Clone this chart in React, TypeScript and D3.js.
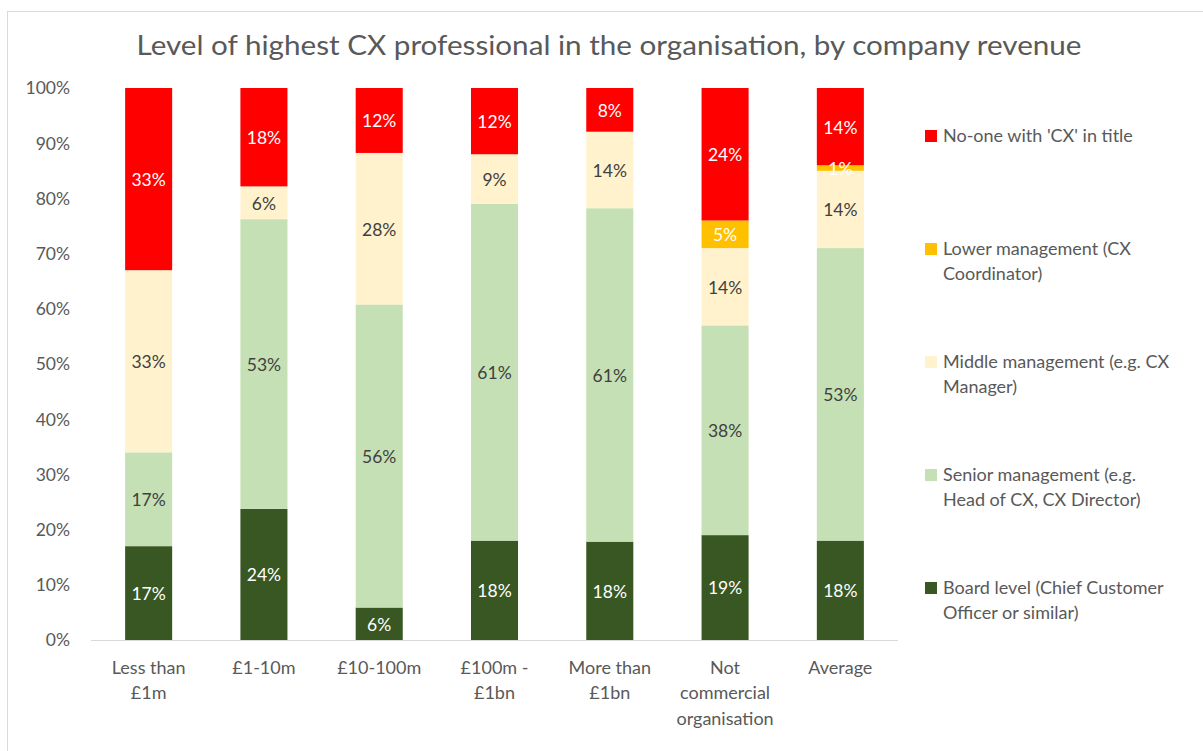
import React from "react";
import * as d3 from "d3";

const categories: string[][] = [
  ["Less than", "£1m"],
  ["£1-10m"],
  ["£10-100m"],
  ["£100m -", "£1bn"],
  ["More than", "£1bn"],
  ["Not", "commercial", "organisation"],
  ["Average"],
];

const seriesNames = [
  "Board level (Chief Customer Officer or similar)",
  "Senior management (e.g. Head of CX, CX Director)",
  "Middle management (e.g. CX Manager)",
  "Lower management (CX Coordinator)",
  "No-one with 'CX' in title",
];

const board = [17, 24, 6, 18, 18, 19, 18];
const senior = [17, 53, 56, 61, 61, 38, 53];
const middle = [33, 6, 28, 9, 14, 14, 14];
const lower = [0, 0, 0, 0, 0, 5, 1];
const noOne = [33, 18, 12, 12, 8, 24, 14];

const yTicks = [0, 0.1, 0.2, 0.3, 0.4, 0.5, 0.6, 0.7, 0.8, 0.9, 1];

const legendLines: string[][] = [
  ["No-one with 'CX' in title"],
  ["Lower management (CX", "Coordinator)"],
  ["Middle management (e.g. CX", "Manager)"],
  ["Senior management (e.g.", "Head of CX, CX Director)"],
  ["Board level (Chief Customer", "Officer or similar)"],
];

const colors = ["#385723", "#C5E0B4", "#FFF2CC", "#FFC000", "#FF0000"];
const labelColors = ["#ffffff", "#404040", "#404040", "#ffffff", "#ffffff"];
const legendColors = ["#FF0000", "#FFC000", "#FFF2CC", "#C5E0B4", "#385723"];

const FONT = "Lato, 'Open Sans', sans-serif";
const GRAY = "#595959";

export default function App() {
  const keys = ["board", "senior", "middle", "lower", "noOne"];
  const rows = categories.map((c, i) => ({
    idx: i,
    board: board[i],
    senior: senior[i],
    middle: middle[i],
    lower: lower[i],
    noOne: noOne[i],
  }));
  const stack = d3.stack<any>().keys(keys).offset(d3.stackOffsetExpand);
  const stacked = stack(rows);

  const x = d3
    .scaleBand<number>()
    .domain(categories.map((_, i) => i))
    .range([91, 898])
    .paddingInner(0.592)
    .paddingOuter(0.296);
  const y = d3.scaleLinear().domain([0, 1]).range([640, 88]);

  const raw = [board, senior, middle, lower, noOne];

  return (
    <svg
      width={1203}
      height={751}
      style={{ position: "absolute", left: 0, top: 0, background: "#fff" }}
      fontFamily={FONT}
    >
      <rect x={7.5} y={11.5} width={1400} height={900} fill="#fff" stroke="#d9d9d9" />
      <text
        x={609}
        y={48}
        textAnchor="middle"
        dominantBaseline="middle"
        fontSize={27}
        fill={GRAY}
        textLength={945}
        lengthAdjust="spacingAndGlyphs"
      >
        Level of highest CX professional in the organisation, by company revenue
      </text>

      {yTicks.map((t) => (
        <text
          key={t}
          x={70}
          y={y(t) + 2}
          textAnchor="end"
          dominantBaseline="middle"
          fontSize={17.5}
          fill={GRAY}
        >
          {d3.format(".0%")(t)}
        </text>
      ))}

      {stacked.map((s, si) => (
        <g key={s.key}>
          {s.map((d, i) => {
            const h = y(d[0]) - y(d[1]);
            if (h <= 0) return null;
            return (
              <rect
                key={i}
                x={x(i)}
                y={y(d[1])}
                width={x.bandwidth()}
                height={h}
                fill={colors[si]}
              />
            );
          })}
        </g>
      ))}

      {stacked.map((s, si) => (
        <g key={"l" + s.key}>
          {s.map((d, i) => {
            const v = raw[si][i];
            if (!v) return null;
            return (
              <text
                key={i}
                x={(x(i) as number) + x.bandwidth() / 2}
                y={(y(d[0]) + y(d[1])) / 2 + 2.5}
                textAnchor="middle"
                dominantBaseline="middle"
                fontSize={17.5}
                fill={labelColors[si]}
              >
                {v + "%"}
              </text>
            );
          })}
        </g>
      ))}

      <line x1={91} x2={898} y1={640.5} y2={640.5} stroke="#d9d9d9" strokeWidth={1} />

      {categories.map((lines, i) => (
        <text
          key={i}
          x={(x(i) as number) + x.bandwidth() / 2}
          textAnchor="middle"
          fontSize={18}
          fill={GRAY}
        >
          {lines.map((ln, j) => (
            <tspan key={j} x={(x(i) as number) + x.bandwidth() / 2} y={669 + j * 25.8} dominantBaseline="middle">
              {ln}
            </tspan>
          ))}
        </text>
      ))}

      {legendLines.map((lines, k) => {
        const y0 = 136 + k * 113;
        return (
          <g key={k}>
            <rect x={925} y={y0 - 6} width={12} height={12} fill={legendColors[k]} />
            <text fontSize={18} fill={GRAY}>
              {lines.map((ln, j) => (
                <tspan key={j} x={943} y={y0 + 1.5 + j * 24.5} dominantBaseline="middle">
                  {ln}
                </tspan>
              ))}
            </text>
          </g>
        );
      })}
    </svg>
  );
}
